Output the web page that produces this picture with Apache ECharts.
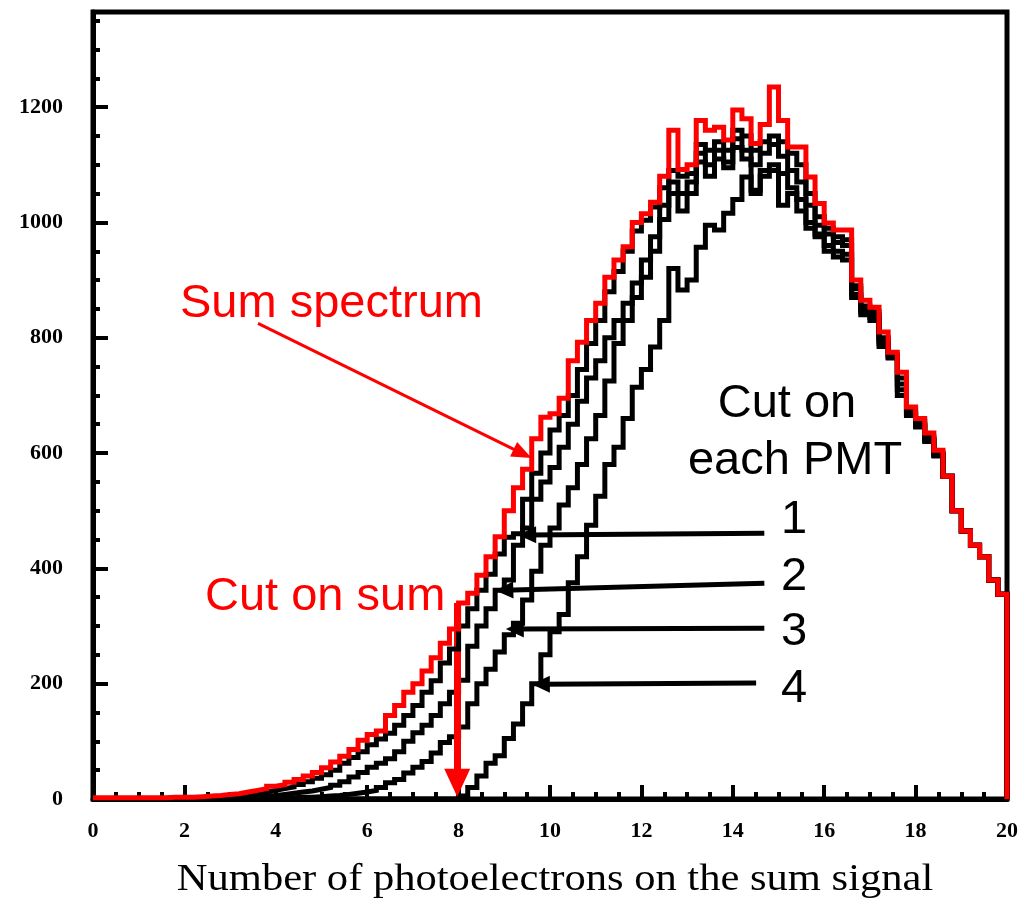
<!DOCTYPE html>
<html>
<head>
<meta charset="utf-8">
<script src="https://cdn.jsdelivr.net/npm/echarts@6/dist/echarts.min.js"></script>
<style>
html,body{margin:0;padding:0;background:#fff;}
#chart{width:1021px;height:901px;}
</style>
</head>
<body>
<div id="chart"></div>
<script>
// ---- axis settings / ticks ----
const xMin = 0, xMax = 20, binWidth = 0.2;
const xTickValues = [0, 2, 4, 6, 8, 10, 12, 14, 16, 18, 20];
const yTickValues = [0, 200, 400, 600, 800, 1000, 1200];
const yMax = 1365;
const xTitle = 'Number of photoelectrons on the sum signal';

// ---- histogram contents (bins of 0.2 p.e., from 0 to 20) ----
const sumSpectrum = [
  2,2,2,2,2,2,2,2,3,3,
  3,4,5,6,8,9,12,15,18,22,
  25,29,34,40,46,54,64,74,86,102,
  112,118,145,162,185,200,222,245,270,295,
  340,357,388,420,455,500,540,572,625,662,
  668,695,760,792,830,860,905,935,958,1000,
  1015,1035,1080,1160,1092,1100,1177,1160,1165,1143,
  1195,1180,1137,1170,1235,1177,1131,1131,1079,1033,
  999,987,987,900,865,853,810,775,740,680,
  660,635,605,560,500,465,440,420,380,355
];
const cutPMT1 = [
  1,1,1,1,1,1,1,1,2,2,
  2,2,3,4,5,6,8,10,12,15,
  18,21,25,30,36,42,50,62,72,82,
  94,104,114,128,145,162,185,205,236,260,
  300,330,362,390,425,454,460,520,565,600,
  640,665,700,745,790,830,880,915,950,985,
  1004,1027,1060,1090,1080,1085,1135,1125,1140,1125,
  1160,1150,1125,1140,1150,1140,1120,1100,1050,1010,
  990,975,970,890,855,845,800,770,730,675,
  655,628,600,560,500,465,440,420,380,355
];
const cutPMT2 = [
  0,0,0,0,0,0,0,1,1,1,
  1,1,1,1,2,2,3,4,5,6,
  8,10,12,14,17,20,24,30,38,46,
  55,62,70,82,100,115,128,145,165,185,
  206,265,300,330,362,380,440,470,520,550,
  575,610,650,690,730,760,800,830,860,895,
  935,975,1030,1070,1050,1070,1120,1100,1125,1105,
  1145,1125,1100,1120,1135,1115,1090,1070,1030,995,
  980,965,960,885,850,840,795,768,720,670,
  650,624,598,560,500,465,440,420,380,355
];
const cutPMT3 = [
  0,0,0,0,0,0,0,0,0,0,
  0,0,0,0,0,0,0,1,1,1,
  2,2,3,3,4,5,6,8,10,12,
  15,20,28,34,45,55,65,80,98,108,
  125,165,200,225,255,285,305,345,395,440,
  470,510,540,580,625,665,725,790,830,870,
  905,950,1005,1050,1020,1050,1105,1080,1110,1095,
  1130,1110,1050,1090,1100,1085,1060,1040,1000,980,
  960,950,945,875,845,835,790,766,710,668,
  648,622,596,560,500,465,440,420,380,355
];
const cutPMT4 = [
  0,0,0,0,0,0,0,0,0,0,
  0,0,0,0,0,0,0,0,0,0,
  0,0,0,0,0,0,0,0,0,0,
  0,0,0,0,0,0,0,0,0,0,
  5,20,40,62,75,105,130,165,200,250,
  290,320,375,420,475,525,580,610,660,714,
  745,784,830,920,883,900,957,995,987,1016,
  1040,1079,1056,1080,1090,1030,1050,1020,990,975,
  950,940,935,870,840,830,785,765,700,665,
  645,620,595,560,500,465,440,420,380,355
];

// ---- annotation arrows (data coordinates: [x, count]) ----
const sumArrow = [[3.61, 825], [9.40, 599]];
const cutSumArrow = [[7.97, 340], [7.97, 28]];
const pmtArrows = [
  [[14.69, 461], [9.50, 458]],
  [[14.69, 374], [9.00, 362]],
  [[14.69, 296], [9.23, 295]],
  [[14.51, 201], [9.80, 199]]
];

// ---- build ----
const binStarts = sumSpectrum.map((_, i) => +(xMin + i * binWidth).toFixed(2));
function histPoints(vals) {
  const pts = vals.map((v, i) => [binStarts[i], v]);
  pts.push([xMax, vals[vals.length - 1]]);
  pts.push([xMax, 0]);
  return pts;
}

const RED = '#ff0000';
const labelFont = {fontFamily: '"Liberation Serif", "Times New Roman", serif', fontWeight: 'bold', fontSize: 22, color: '#000'};
const annFont = '47px "Liberation Sans", Arial, sans-serif';

function blackSeries(name, vals, z, extra) {
  return Object.assign({
    name: name, type: 'line', step: 'end', data: histPoints(vals),
    showSymbol: false, symbol: 'none', animation: false, silent: true, z: z,
    lineStyle: {color: '#000', width: 5, join: 'miter'}, itemStyle: {color: '#000'}
  }, extra || {});
}

const chart = echarts.init(document.getElementById('chart'), null, {renderer: 'canvas'});
const option = {
  animation: false,
  backgroundColor: '#fff',
  grid: {left: 93, right: 13, top: 12, bottom: 102, show: true, borderColor: '#000', borderWidth: 5, backgroundColor: 'transparent'},
  xAxis: {
    type: 'value', min: xMin, max: xMax, interval: 2,
    axisLine: {show: true, lineStyle: {color: '#000', width: 5}},
    axisTick: {show: true, inside: true, length: 14, lineStyle: {color: '#000', width: 4}},
    minorTick: {show: true, splitNumber: 4, length: 7, lineStyle: {color: '#000', width: 4}},
    splitLine: {show: false}, minorSplitLine: {show: false},
    axisLabel: Object.assign({margin: 21, formatter: v => xTickValues.includes(v) ? String(v) : ''}, labelFont)
  },
  yAxis: [
    {
      type: 'value', min: 0, max: yMax, interval: 50, position: 'left',
      axisLine: {show: true, lineStyle: {color: '#000', width: 5}},
      axisTick: {show: true, inside: true, length: 7, lineStyle: {color: '#000', width: 4}},
      splitLine: {show: false}, axisLabel: {show: false}
    },
    {
      type: 'value', min: 0, max: yMax, interval: 200, position: 'left', offset: 0,
      axisLine: {show: false},
      axisTick: {show: true, inside: true, length: 15, lineStyle: {color: '#000', width: 4}},
      splitLine: {show: false},
      axisLabel: Object.assign({margin: 30, formatter: v => yTickValues.includes(v) ? String(v) : ''}, labelFont)
    }
  ],
  series: [
    blackSeries('cut4', cutPMT4, 2, {
      markLine: {
        silent: true, animation: false, symbol: ['none', 'triangle'], symbolSize: [17, 18],
        label: {show: false}, emphasis: {disabled: true},
        lineStyle: {color: '#000', width: 5, type: 'solid'},
        data: pmtArrows.map(a => [{coord: a[0]}, {coord: a[1]}])
      }
    }),
    blackSeries('cut3', cutPMT3, 3),
    blackSeries('cut2', cutPMT2, 4),
    blackSeries('cut1', cutPMT1, 5),
    {
      name: 'sum', type: 'line', step: 'end', data: histPoints(sumSpectrum),
      showSymbol: false, symbol: 'none', animation: false, silent: true, z: 6,
      lineStyle: {color: RED, width: 5, join: 'miter'}, itemStyle: {color: RED},
      markLine: {
        silent: true, animation: false, symbol: ['none', 'triangle'], symbolSize: [16, 20],
        label: {show: false}, emphasis: {disabled: true},
        lineStyle: {color: RED, width: 3, type: 'solid'},
        data: [
          [{coord: sumArrow[0]}, {coord: sumArrow[1]}],
          [{coord: cutSumArrow[0], lineStyle: {width: 7, color: RED}}, {coord: cutSumArrow[1], symbolSize: [26, 28], lineStyle: {width: 7, color: RED}}]
        ]
      }
    }
  ],
  graphic: [
    {type: 'text', x: 180, y: 304, z: 100, style: {text: 'Sum spectrum', font: annFont, fill: RED, align: 'left', verticalAlign: 'middle'}},
    {type: 'text', x: 205, y: 597, z: 100, style: {text: 'Cut on sum', font: annFont, fill: RED, align: 'left', verticalAlign: 'middle'}},
    {type: 'text', x: 787, y: 404, z: 100, style: {text: 'Cut on', font: annFont, fill: '#000', align: 'center', verticalAlign: 'middle'}},
    {type: 'text', x: 795, y: 461, z: 100, style: {text: 'each PMT', font: annFont, fill: '#000', align: 'center', verticalAlign: 'middle'}},
    {type: 'text', x: 781, y: 520, z: 100, style: {text: '1', font: annFont, fill: '#000', align: 'left', verticalAlign: 'middle'}},
    {type: 'text', x: 781, y: 577, z: 100, style: {text: '2', font: annFont, fill: '#000', align: 'left', verticalAlign: 'middle'}},
    {type: 'text', x: 781, y: 632, z: 100, style: {text: '3', font: annFont, fill: '#000', align: 'left', verticalAlign: 'middle'}},
    {type: 'text', x: 781, y: 689, z: 100, style: {text: '4', font: annFont, fill: '#000', align: 'left', verticalAlign: 'middle'}},
    {type: 'text', x: 555, y: 880, scaleX: 1.12, z: 100, style: {text: xTitle, font: '38px "Liberation Serif", "Times New Roman", serif', fill: '#000', align: 'center', verticalAlign: 'middle'}}
  ]
};
chart.setOption(option);
</script>
</body>
</html>
